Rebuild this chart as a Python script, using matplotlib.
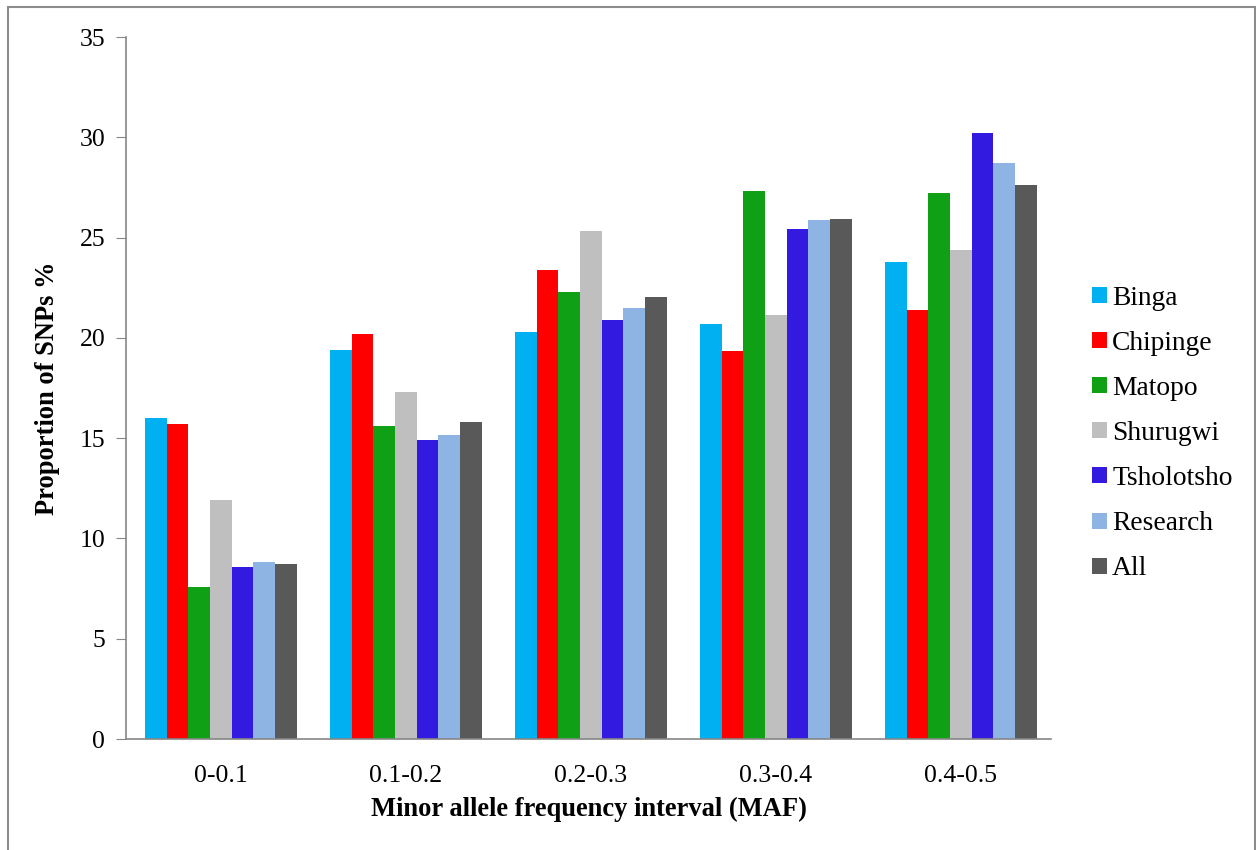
import numpy as np
import matplotlib
matplotlib.use("Agg")
import matplotlib.pyplot as plt
from matplotlib.patches import Rectangle

# data
intervals = ["0-0.1", "0.1-0.2", "0.2-0.3", "0.3-0.4", "0.4-0.5"]
populations = ["Binga", "Chipinge", "Matopo", "Shurugwi", "Tsholotsho", "Research", "All"]
binga = [16.0, 19.4, 20.3, 20.7, 23.8]
chipinge = [15.7, 20.2, 23.4, 19.35, 21.4]
matopo = [7.6, 15.6, 22.3, 27.3, 27.2]
shurugwi = [11.9, 17.3, 25.35, 21.15, 24.4]
tsholotsho = [8.6, 14.9, 20.9, 25.45, 30.2]
research = [8.8, 15.15, 21.5, 25.9, 28.7]
all_pops = [8.75, 15.8, 22.05, 25.95, 27.6]

series = [binga, chipinge, matopo, shurugwi, tsholotsho, research, all_pops]
colors = ["#00B0F0", "#FF0000", "#0FA015", "#BFBFBF", "#331AE0", "#8DB4E2", "#595959"]

plt.rcParams['font.family'] = ['Liberation Serif', 'DejaVu Serif']

fig = plt.figure(figsize=(12.56, 8.5), dpi=100)
ax = fig.add_axes([126/1256, 111/850, 925/1256, 702/850])

x = np.arange(len(intervals))
n = len(series)
w = 0.117
for k in range(n):
    ax.bar(x + (k - (n - 1) / 2) * w, series[k], width=w, color=colors[k],
           label=populations[k], linewidth=0)

ax.set_xlim(-0.513, 4.487)
ax.set_ylim(0, 35)
ax.set_yticks(np.arange(0, 36, 5))
ax.set_xticks(x)
ax.set_xticklabels(intervals)

for s in ["top", "right"]:
    ax.spines[s].set_visible(False)
for s in ["left", "bottom"]:
    ax.spines[s].set_color("#868686")
    ax.spines[s].set_linewidth(1.2)

ax.tick_params(axis="y", direction="out", length=7, color="#868686", labelsize=18.5, pad=8)
ax.tick_params(axis="x", length=0, labelsize=18.5, pad=19)

ax.set_ylabel("Proportion of SNPs %", fontsize=19.1, fontweight="bold", labelpad=14)
ax.set_xlabel("Minor allele frequency interval (MAF)", fontsize=19.1, fontweight="bold", labelpad=7)

leg = ax.legend(loc="center left", bbox_to_anchor=(1.018, 0.435), frameon=False,
                fontsize=19.8, handlelength=0.52, handleheight=0.52,
                handletextpad=0.2, labelspacing=0.73)

# grey frame around the whole chart
fig.patches.append(Rectangle((8/1256, -0.01), 1247/1256, 1 - 7/850 + 0.01,
                             transform=fig.transFigure, fill=False,
                             edgecolor="#8c8c8c", linewidth=1.5, clip_on=False))

fig.savefig("out.png", dpi=100)
